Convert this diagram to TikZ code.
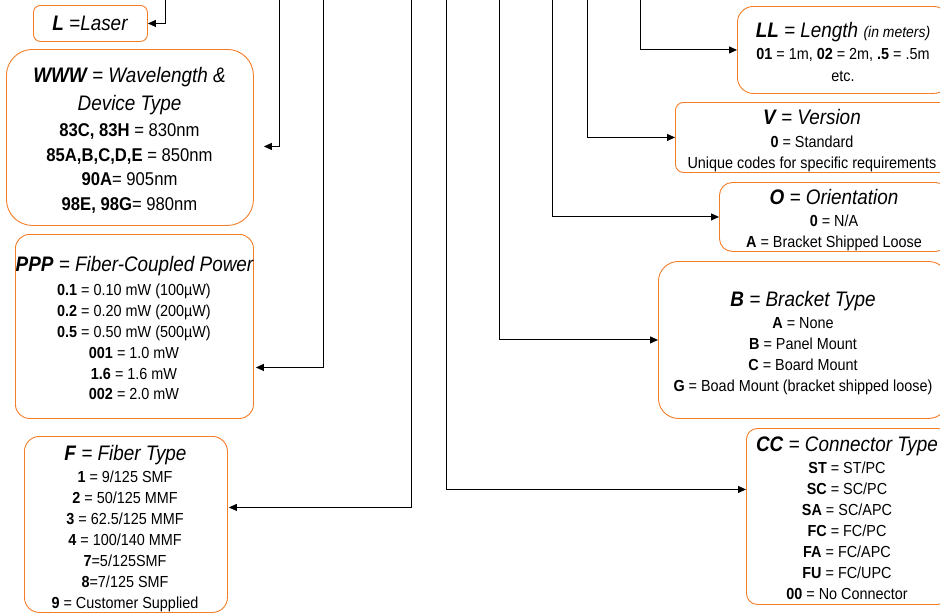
\documentclass[tikz,border=0pt]{standalone}
\usepackage{fontspec}
\setmainfont{Liberation Sans}[FakeStretch=0.9]
\usetikzlibrary{arrows.meta,calc}
\definecolor{boxorange}{RGB}{245,125,40}
\tikzset{
  codebox/.style={draw=boxorange, line width=0.9pt, fill=white, inner sep=0pt, anchor=north west},
  conn/.style={draw=black, line width=1pt, -{Triangle[length=8pt,width=7pt]}},
  ttl/.style={inner sep=0pt, anchor=base, font=\fontsize{21}{25}\selectfont\itshape},
  bodytxt/.style={inner sep=0pt, anchor=base, font=\fontsize{16}{20}\selectfont},
  bigbody/.style={font=\fontsize{18.5}{22}\selectfont},
}
\newcommand\K[1]{\textbf{#1}}
\newcommand\Lines[6]{\foreach \t [count=\i] in {#6} {\node[bodytxt,#2] (#1\i) at (#3,{#4+(\i-1)*#5}) {\t};}}
\begin{document}
\begin{tikzpicture}[x=1pt,y=-1pt]
\useasboundingbox (0,0) rectangle (940,613);
\clip (0,0) rectangle (940,613);
\fill[white] (0,0) rectangle (940,613);

% boxes
\node[codebox, rounded corners=7pt, minimum width=114pt, minimum height=36pt] (Lbox) at (33,5) {};
\node[codebox, rounded corners=26pt, minimum width=247pt, minimum height=176pt] (WWWbox) at (6,49) {};
\node[codebox, rounded corners=14pt, minimum width=238pt, minimum height=184pt] (PPPbox) at (15,234) {};
\node[codebox, rounded corners=15pt, minimum width=203pt, minimum height=176pt] (Fbox) at (24,436) {};
\node[codebox, rounded corners=16pt, minimum width=212pt, minimum height=87pt] (LLbox) at (737,6) {};
\node[codebox, rounded corners=8pt, minimum width=274pt, minimum height=70pt] (Vbox) at (675,102) {};
\node[codebox, rounded corners=13pt, minimum width=229pt, minimum height=69pt] (Obox) at (719,182) {};
\node[codebox, rounded corners=20pt, minimum width=290pt, minimum height=157pt] (Bbox) at (658,261) {};
\node[codebox, rounded corners=11pt, minimum width=202pt, minimum height=176pt] (CCbox) at (746,428) {};

% texts
\node[ttl] (Lt) at (90,30.5) {\K{L} =Laser};

\node[ttl] (WWWt1) at (129.5,82.5) {\K{WWW} = Wavelength \&};
\node[ttl] (WWWt2) at (129.5,110.5) {Device Type};
\Lines{WWWb}{bigbody}{129.5}{136.7}{24.5}{{\K{83C, 83H} = 830nm},{\K{85A,B,C,D,E} = 850nm},{\K{90A}= 905nm},{\K{98E, 98G}= 980nm}}

\node[ttl] (PPPt) at (134.5,271.5) {\K{PPP} = Fiber-Coupled Power};
\Lines{PPPb}{}{134}{295.8}{20.8}{{\K{0.1} = 0.10 mW (100µW)},{\K{0.2} = 0.20 mW (200µW)},{\K{0.5} = 0.50 mW (500µW)},{\K{001} = 1.0 mW},{\K{1.6} = 1.6 mW},{\K{002} = 2.0 mW}}

\node[ttl] (Ft) at (125.5,460.5) {\K{F} = Fiber Type};
\Lines{Fb}{}{125}{482.8}{21}{{\K{1} = 9/125 SMF},{\K{2} = 50/125 MMF},{\K{3} = 62.5/125 MMF},{\K{4} = 100/140 MMF},{\K{7}=5/125SMF},{\K{8}=7/125 SMF},{\K{9} = Customer Supplied}}

\node[ttl] (LLt) at (843,37.5) {\K{LL} = Length {\fontsize{15.5}{18}\selectfont(in meters)}};
\Lines{LLb}{}{843}{59.8}{22}{{\K{01} = 1m, \K{02} = 2m, \K{.5} = .5m},{etc.}}

\node[ttl] (Vt) at (812,124.5) {\K{V} = Version};
\Lines{Vb}{}{812}{147.8}{21}{{\K{0} = Standard},{Unique codes for specific requirements}}

\node[ttl] (Ot) at (834,204.5) {\K{O} = Orientation};
\Lines{Ob}{}{834}{226.8}{21}{{\K{0} = N/A},{\K{A} = Bracket Shipped Loose}}

\node[ttl] (Bt) at (803,306.5) {\K{B} = Bracket Type};
\Lines{Bb}{}{803}{328.8}{21}{{\K{A} = None},{\K{B} = Panel Mount},{\K{C} = Board Mount},{\K{G} = Boad Mount (bracket shipped loose)}}

\node[ttl] (CCt) at (847,451.5) {\K{CC} = Connector Type};
\Lines{CCb}{}{847}{473.8}{21}{{\K{ST} = ST/PC},{\K{SC} = SC/PC},{\K{SA} = SC/APC},{\K{FC} = FC/PC},{\K{FA} = FC/APC},{\K{FU} = FC/UPC},{\K{00} = No Connector}}

% connector origins (top edge)
\coordinate (tL) at (165,-2);
\coordinate (tW) at (279,-2);
\coordinate (tP) at (323,-2);
\coordinate (tF) at (411,-2);
\coordinate (tC) at (446,-2);
\coordinate (tB) at (499,-2);
\coordinate (tO) at (552,-2);
\coordinate (tV) at (587,-2);
\coordinate (tLL) at (640,-2);

% connectors
\draw[conn] (tL) |- (Lbox.east);
\draw[conn] (tW) |- ($(WWWbox.east)+(10,9)$);
\draw[conn] (tP) |- ($(PPPbox.east)+(2,41)$);
\draw[conn] (tF) |- ($(Fbox.east)+(1,-17)$);
\draw[conn] (tC) |- ($(CCbox.west)+(0,-27)$);
\draw[conn] (tB) |- (Bbox.west);
\draw[conn] (tO) |- (Obox.west);
\draw[conn] (tV) |- (Vbox.west);
\draw[conn] (tLL) |- (LLbox.west);
\end{tikzpicture}
\end{document}
